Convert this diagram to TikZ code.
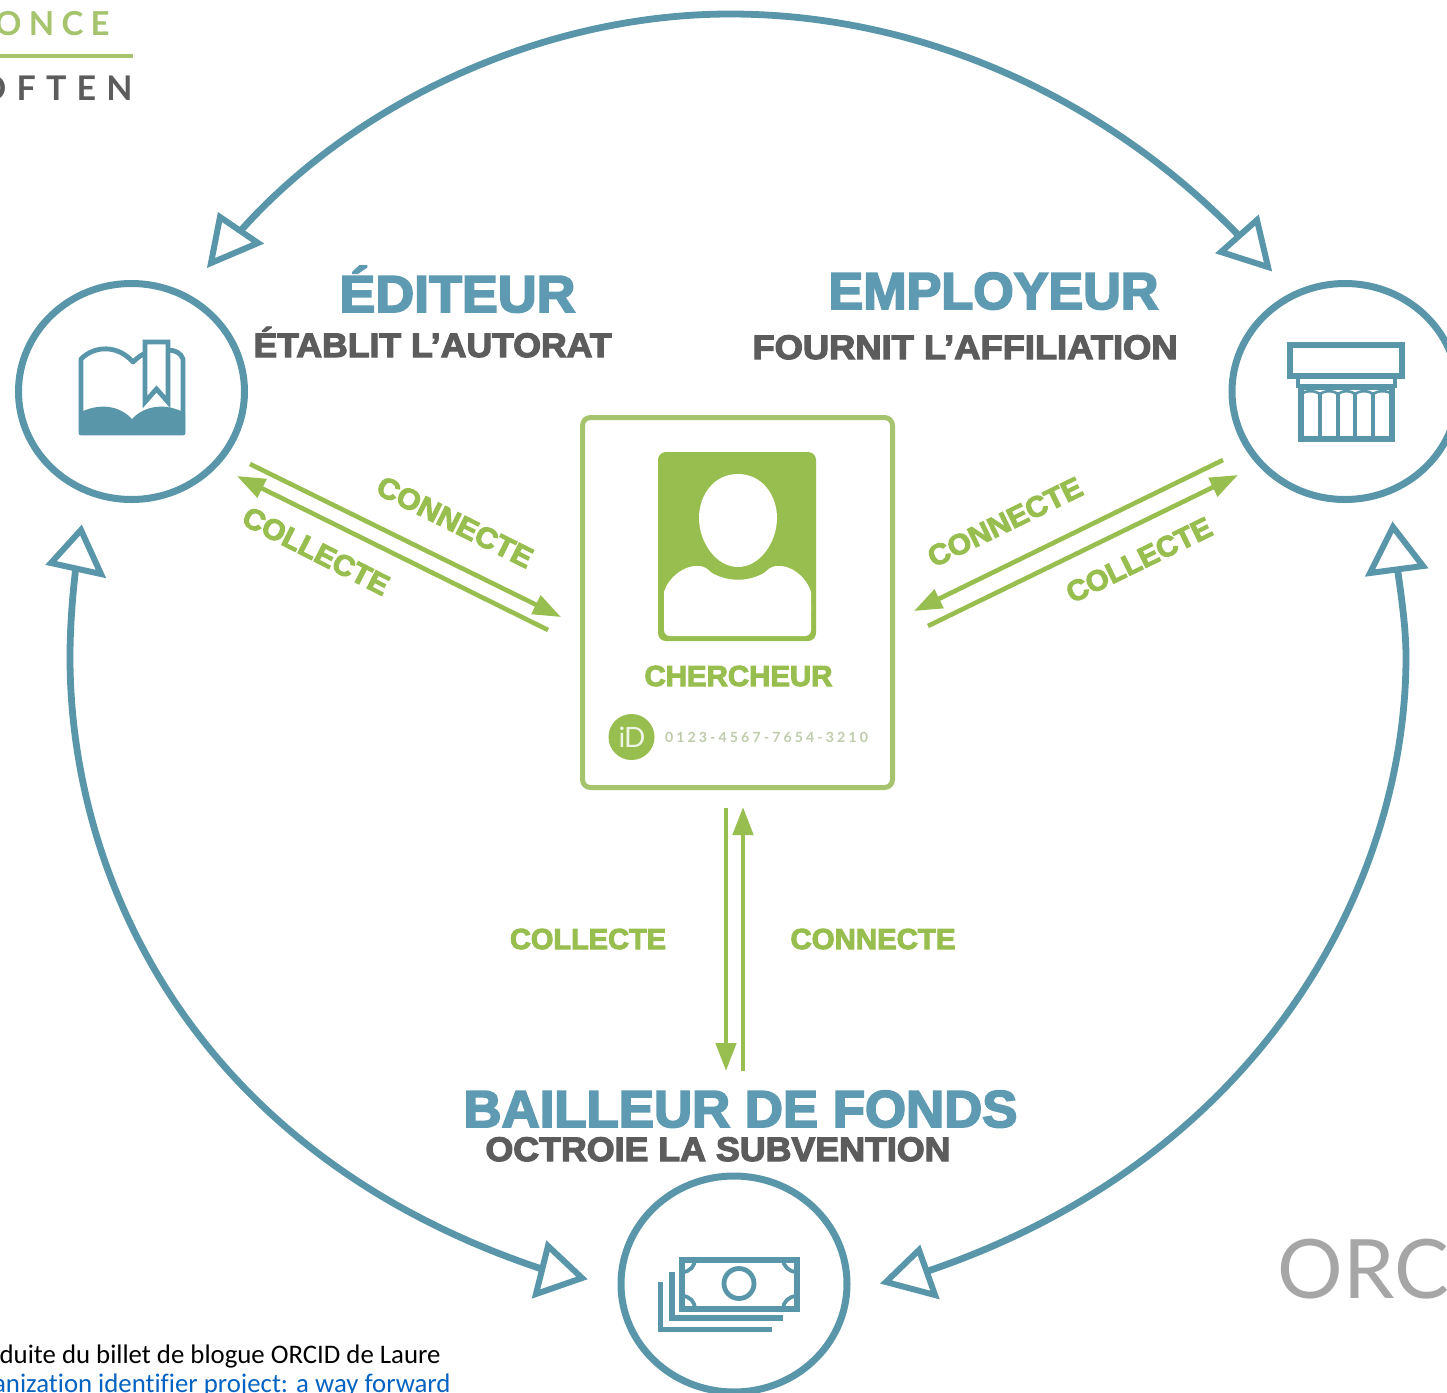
\documentclass[tikz,border=0pt]{standalone}
\usepackage{fontspec}
\usepackage{graphicx}
\usetikzlibrary{arrows.meta,shapes.geometric}
\newfontfamily\hvb[UprightFont=* Bold,FakeBold=3.5]{Liberation Sans}
\newfontfamily\calib{Carlito}
\newfontfamily\lat{Lato}
\definecolor{tealc}{HTML}{5A96A9}
\definecolor{titlec}{HTML}{5E9BB2}
\definecolor{greenc}{HTML}{97BE4F}
\definecolor{cardc}{HTML}{A5C46D}
\definecolor{grayt}{HTML}{5C5C5C}
\newdimen\pxu \pxu=0.5pt
\newcommand{\fitw}[3]{\resizebox{#1\pxu}{\height}{\fontsize{#2}{#2}\selectfont\hvb #3}}
\tikzset{
  actor/.style={ellipse,draw=tealc,line width=3.5pt,minimum width=113pt,minimum height=108pt,inner sep=0pt,fill=white},
  txt/.style={inner sep=0pt,anchor=base},
  arcline/.style={draw=tealc,line width=3.4pt},
  headtri/.style={draw=tealc,line width=3pt,fill=white,line join=miter},
  flow/.style={draw=greenc,line width=2.3pt,-{Triangle[length=14pt,width=10pt]}},
  icon/.style={draw=tealc,line width=2.4pt,line join=miter},
}
\begin{document}
\begin{tikzpicture}[x=0.5pt,y=-0.5pt]
\useasboundingbox (0,0) rectangle (1447,1393);
\clip (0,0) rectangle (1447,1393);
\fill[white] (0,0) rectangle (1447,1393);
% logo fragments
\node[txt,anchor=base east,text=cardc] (once) at (110,35) {\fontsize{16.5}{16.5}\selectfont\lat\bfseries\addfontfeature{LetterSpace=22}ONCE};
\draw[draw=cardc,line width=2pt] (0,56) -- (133,56);
\node[txt,anchor=base east,text=grayt] (often) at (133,100) {\fontsize{17}{17}\selectfont\lat\bfseries\addfontfeature{LetterSpace=30}OFTEN};
\node[txt,anchor=base west,text=black!35] (orc) at (1277,1298) {\fontsize{41}{41}\selectfont\lat ORC};
% actors
\node[actor] (editeur) at (131.5,391.5) {};
\node[actor] (employeur) at (1345,391.5) {};
\node[actor] (bailleur) at (734,1284) {};
% card
\node[draw=cardc,line width=2.5pt,rounded corners=4pt,minimum width=155pt,minimum height=185pt,inner sep=0pt] (card) at (737.5,602.5) {};
% portrait
\fill[greenc,rounded corners=4pt] (658,452) rectangle (816,641);
\fill[white,rounded corners=3pt] (664,600) -- (664,636) -- (811,636) -- (811,600) -- cycle;
\fill[white] (664,592) .. controls (668,578) and (684,565) .. (698,566) .. controls (706,566) and (708,570) .. (712,573)
  .. controls (728,582) and (748,582) .. (764,573) .. controls (768,570) and (770,566) .. (778,566)
  .. controls (792,565) and (807,578) .. (811,592) -- (811,610) -- (664,610) -- cycle;
\fill[white] (738,474) .. controls (762,474) and (777,495) .. (777,518) .. controls (777,542) and (760,567) .. (738,567)
  .. controls (716,567) and (699,542) .. (699,518) .. controls (699,495) and (714,474) .. (738,474) -- cycle;
\node[txt,text=greenc] (chercheur) at (738.5,686) {\fitw{188}{14.5}{CHERCHEUR}};
\node[circle,fill=greenc,minimum size=23pt,inner sep=0pt] (orcidbadge) at (631.5,737) {};
\node[inner sep=0pt,text=white!85!greenc] (idtext) at (632,737) {\fontsize{14}{14}\selectfont\lat\addfontfeature{LetterSpace=-3}iD};
\node[inner sep=0pt,text={rgb,255:red,190;green,203;blue,172}] (orcidnum) at (766.5,737) {\resizebox{203\pxu}{\height}{\fontsize{7}{7}\selectfont\lat\bfseries\addfontfeature{LetterSpace=22}0123-4567-7654-3210}};
% titles
\node[txt,text=titlec] (t1) at (457.5,312) {\fitw{236}{26}{ÉDITEUR}};
\node[txt,text=grayt] (s1) at (432.5,357) {\fitw{358}{17}{ÉTABLIT L’AUTORAT}};
\node[txt,text=titlec] (t2) at (993.5,309) {\fitw{330}{26}{EMPLOYEUR}};
\node[txt,text=grayt] (s2) at (965,359) {\fitw{425}{17}{FOURNIT L’AFFILIATION}};
\node[txt,text=titlec] (t3) at (740.5,1127) {\fitw{554}{26}{BAILLEUR DE FONDS}};
\node[txt,text=grayt] (s3) at (718,1161) {\fitw{465}{17}{OCTROIE LA SUBVENTION}};
% flow labels
\node[inner sep=0pt,text=greenc,rotate=-26.5] (l1) at (455,522) {\fitw{170}{14.5}{CONNECTE}};
\node[inner sep=0pt,text=greenc,rotate=-27] (l2) at (316,551) {\fitw{160}{14.5}{COLLECTE}};
\node[inner sep=0pt,text=greenc,rotate=26] (l3) at (1005,522) {\fitw{168}{14.5}{CONNECTE}};
\node[inner sep=0pt,text=greenc,rotate=26] (l4) at (1139,560) {\fitw{158}{14.5}{COLLECTE}};
\node[txt,text=greenc] (l5) at (588,949) {\fitw{156}{14.5}{COLLECTE}};
\node[txt,text=greenc] (l6) at (873,949) {\fitw{165}{14.5}{CONNECTE}};
% green flows
\coordinate (a1) at (250,464); \coordinate (a2) at (561,617);
\coordinate (b1) at (548,630); \coordinate (b2) at (237,476);
\coordinate (c1) at (1223,460); \coordinate (c2) at (914,611);
\coordinate (d1) at (928,626); \coordinate (d2) at (1238,475);
\coordinate (e1) at (726,808); \coordinate (e2) at (726,1071);
\coordinate (f1) at (743,1071); \coordinate (f2) at (743,807);
\draw[flow] (a1) -- (a2);
\draw[flow] (b1) -- (b2);
\draw[flow] (c1) -- (c2);
\draw[flow] (d1) -- (d2);
\draw[flow] (e1) -- (e2);
\draw[flow] (f1) -- (f2);
% teal arcs
\coordinate (tl) at (236,236); \coordinate (tm) at (730,14); \coordinate (tr) at (1243,240);
\coordinate (ll) at (76,566); \coordinate (lm) at (70,657); \coordinate (lr) at (545,1270);
\coordinate (rr) at (1397,566); \coordinate (rm) at (1406,657); \coordinate (rl) at (925,1272);
\draw[arcline] (tl) .. controls (350,105) and (540,14) .. (tm) .. controls (930,14) and (1115,105) .. (tr);
\draw[arcline] (ll) .. controls (72,600) and (70,630) .. (lm) .. controls (70,880) and (195,1155) .. (lr);
\draw[arcline] (rr) .. controls (1402,600) and (1406,630) .. (rm) .. controls (1406,880) and (1265,1158) .. (rl);
% open arrowheads
\draw[headtri] (211,263) -- (220,217) -- (258,243) -- cycle;
\draw[headtri] (1268,267) -- (1257,220) -- (1221,252) -- cycle;
\draw[headtri] (81,530) -- (51,563) -- (101,574) -- cycle;
\draw[headtri] (1393,527) -- (1370,573) -- (1423,566) -- cycle;
\draw[headtri] (582,1278) -- (548,1246) -- (536,1294) -- cycle;
\draw[headtri] (886,1282) -- (919,1250) -- (935,1295) -- cycle;
% book icon
\draw[icon,line join=round] (133,433) -- (81,433) -- (81,359) .. controls (95,345) and (118,345) .. (133,362) .. controls (137,358) and (141,355) .. (146,353);
\draw[icon,line join=round] (168,350) .. controls (175,350) and (181,353) .. (183,359) -- (183,433) -- (133,433);
\draw[icon,fill=white] (145,342) -- (168,342) -- (168,402) -- (156.5,389) -- (145,402) -- cycle;
\fill[tealc] (79,434) -- (79,413) .. controls (100,402) and (120,406) .. (132,419) .. controls (144,406) and (165,402) .. (185,413) -- (185,434) -- cycle;
% pillar icon
\draw[icon,line width=2.8pt] (1290,345) rectangle (1402,376);
\draw[icon,line width=2.4pt] (1298,377) -- (1298,386) -- (1395,386) -- (1395,377);
\draw[icon,line width=2.6pt,fill=white] (1301,387) rectangle (1392,439);
\foreach \cx in {1320,1338,1355,1373} \draw[icon,line width=1.9pt] (\cx,392) -- (\cx,438);
\draw[icon,line width=1.3pt] (1301,395) .. controls (1303,390) and (1318,390) .. (1320,395)
  (1320,395) .. controls (1322,390) and (1336,390) .. (1338,395)
  (1338,395) .. controls (1340,390) and (1353,390) .. (1355,395)
  (1355,395) .. controls (1357,390) and (1371,390) .. (1373,395)
  (1373,395) .. controls (1375,390) and (1390,390) .. (1392,395);
% money icon
\draw[icon,line width=2.8pt] (660.5,1282) -- (660.5,1329.5) -- (772,1329.5);
\draw[icon,line width=2.8pt] (672,1272) -- (672,1318) -- (783,1318);
\draw[icon,line width=3pt,fill=white] (682,1259.5) rectangle (797,1309);
\node[circle,draw=tealc,line width=2.4pt,minimum size=15pt,inner sep=0pt] (coin) at (739,1283.5) {};
\draw[icon,line width=1.9pt] (682,1272) .. controls (690,1272) and (695,1266) .. (695,1259)
  (783,1259) .. controls (783,1266) and (789,1272) .. (797,1272)
  (682,1296) .. controls (690,1296) and (695,1302) .. (695,1309)
  (783,1309) .. controls (783,1302) and (789,1296) .. (797,1296);
% footnote
\node[txt,anchor=base east,text=black] (foot1) at (441,1363) {\fontsize{13.4}{13.4}\selectfont\calib aduite du billet de blogue ORCID de Laure};
\node[txt,anchor=base east,text={rgb,255:red,5;green,99;blue,193}] (foot2) at (451,1392) {\fontsize{13.4}{13.4}\selectfont\calib\addfontfeature{Ligatures=NoCommon}anization identifier project: a way forward};
\end{tikzpicture}
\end{document}
